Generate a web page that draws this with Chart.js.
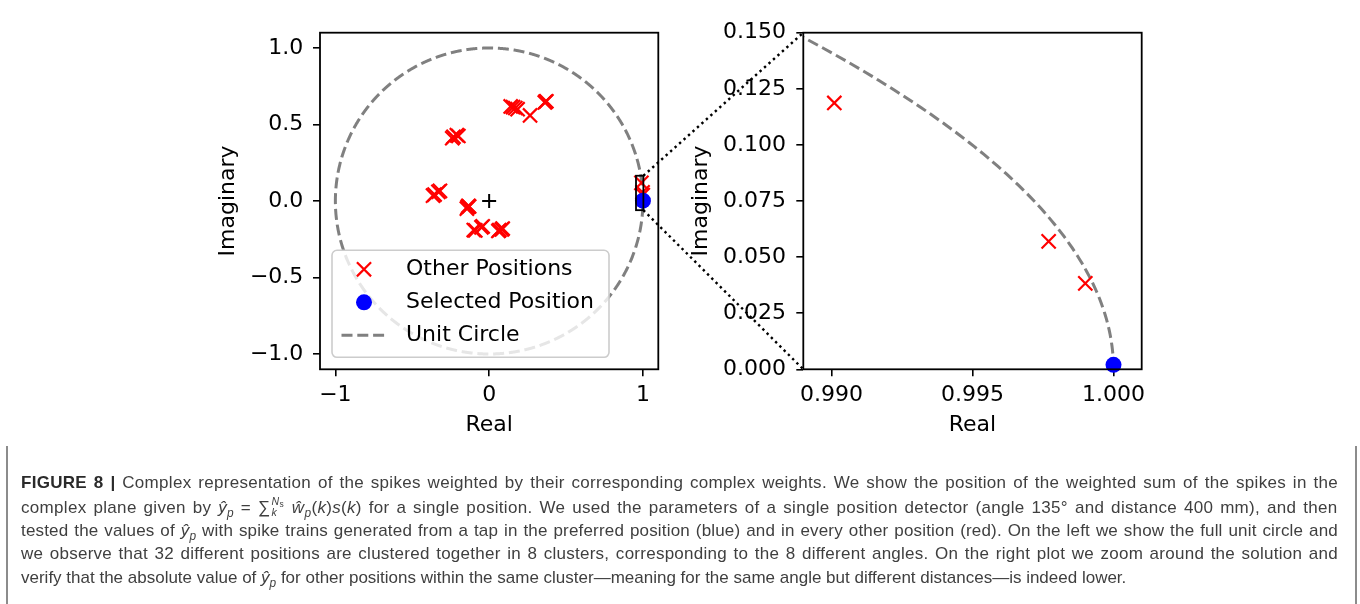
<!DOCTYPE html>
<html lang="en">
<head>
    <meta charset="UTF-8"/>
    <title>Figure 8 - complex representation of weighted spikes</title>
    <script src="https://cdn.jsdelivr.net/npm/chart.js"></script>
    <style>
        html, body {
            margin: 0;
            padding: 0;
            background: #fff;
        }

        body {
            width: 1360px;
            height: 604px;
            position: relative;
            overflow: hidden;
        }

        canvas.plot {
            position: absolute;
            top: 0;
        }

        #leftPlot { left: 200px; }
        #rightPlot { left: 680px; }

        #overlay {
            position: absolute;
            left: 0;
            top: 0;
            pointer-events: none;
        }

        #caption {
            position: absolute;
            left: 6px;
            top: 446px;
            width: 1347px;
            height: 160px;
            border-left: 2px solid #8c8c8c;
            border-right: 2px solid #8c8c8c;
            font-family: 'Liberation Sans', Arial, sans-serif;
            font-size: 17px;
            color: #3f3f3f;
        }

        #caption .line {
            position: absolute;
            left: 13px;
            height: 20px;
            line-height: 20px;
            white-space: nowrap;
        }

        #caption b { color: #2a2a2a; }

        #caption sub { font-size: 0.7em; vertical-align: -0.3em; line-height: 0; }

        .lim {
            display: inline-flex;
            flex-direction: column;
            vertical-align: middle;
            font-size: 0.62em;
            line-height: 1.1;
            margin: 0 1px;
            position: relative;
            top: -1px;
        }

        .lim sub { font-size: 0.8em !important; vertical-align: -0.2em !important; }
    </style>
</head>
<body>
<canvas class="plot" id="leftPlot" width="480" height="440"></canvas>
<canvas class="plot" id="rightPlot" width="480" height="440"></canvas>
<canvas id="overlay" width="1360" height="440"></canvas>

<div id="caption">
    <div class="line" style="top:27px"><b>FIGURE 8 |</b> Complex representation of the spikes weighted by their corresponding complex weights. We show the position of the weighted sum of the spikes in the</div>
    <div class="line" style="top:50.8px">complex plane given by <i>ŷ<sub>p</sub></i> = ∑<span class="lim"><span><i>N</i><sub>s</sub></span><i>k</i></span> <i>ŵ<sub>p</sub></i>(<i>k</i>)<i>s</i>(<i>k</i>) for a single position. We used the parameters of a single position detector (angle 135° and distance 400 mm), and then</div>
    <div class="line" style="top:74.6px">tested the values of <i>ŷ<sub>p</sub></i> with spike trains generated from a tap in the preferred position (blue) and in every other position (red). On the left we show the full unit circle and</div>
    <div class="line" style="top:98.4px">we observe that 32 different positions are clustered together in 8 clusters, corresponding to the 8 different angles. On the right plot we zoom around the solution and</div>
    <div class="line" style="top:122.2px">verify that the absolute value of <i>ŷ<sub>p</sub></i> for other positions within the same cluster—meaning for the same angle but different distances—is indeed lower.</div>
</div>

<script>
    // weighted sums for every non-selected position (real / imaginary parts)
    const otherReal = [
        0.140, 0.155, 0.170, 0.185,
        0.266, 0.362, 0.368, 0.372,
        -0.240, -0.232, -0.210, -0.200,
        -0.365, -0.355, -0.330, -0.320,
        -0.145, -0.140, -0.135, -0.130,
        -0.100, -0.090, -0.050, -0.042,
        0.060, 0.066, 0.082, 0.088,
        0.9901, 0.9977, 0.9990
    ];
    const otherImag = [
        0.618, 0.614, 0.608, 0.600,
        0.559, 0.644, 0.650, 0.652,
        0.410, 0.420, 0.430, 0.425,
        0.035, 0.042, 0.060, 0.066,
        -0.050, -0.040, -0.032, -0.036,
        -0.190, -0.192, -0.172, -0.166,
        -0.196, -0.190, -0.186, -0.180,
        0.1187, 0.0570, 0.0383
    ];

    // the position the detector is tuned to
    const selectedReal = [1.000];
    const selectedImag = [0.002];

    // origin marker
    const originReal = [0];
    const originImag = [0];

    // region shown in the zoomed plot, as outlined on the full plot
    const zoomBoxReal = [0.955, 1.003];
    const zoomBoxImag = [-0.060, 0.165];

    // axis limits and ticks
    const fullLimits = [-1.1, 1.1];
    const fullTicksX = [-1, 0, 1];
    const fullTicksY = [-1.0, -0.5, 0.0, 0.5, 1.0];
    const zoomLimitsX = [0.989, 1.001];
    const zoomLimitsY = [0.0, 0.15];
    const zoomTicksX = [0.990, 0.995, 1.000];
    const zoomTicksY = [0.000, 0.025, 0.050, 0.075, 0.100, 0.125, 0.150];

    // unit circle, fine enough to stay smooth in the zoomed view
    const circleSteps = 3600;
    const unitCircle = [];
    for (let i = 0; i <= circleSteps; i++) {
        const t = 2 * Math.PI * i / circleSteps;
        unitCircle.push({x: Math.cos(t), y: Math.sin(t)});
    }

    const RED = '#ff0000';
    const BLUE = '#0000ff';
    const GREY = '#808080';
    const FONT = {family: 'DejaVu Sans', size: 22};

    Chart.defaults.font.family = FONT.family;
    Chart.defaults.font.size = FONT.size;
    Chart.defaults.color = '#000';

    const toPoints = (xs, ys) => xs.map((x, i) => ({x: x, y: ys[i]}));

    const fmt = digits => v => (v < 0 ? '\u2212' : '') + Math.abs(v).toFixed(digits);

    function makeDatasets() {
        return [
            {
                label: 'Selected Position',
                data: toPoints(selectedReal, selectedImag),
                pointStyle: 'circle',
                pointRadius: 8,
                pointBorderWidth: 0,
                pointBackgroundColor: BLUE,
                pointBorderColor: BLUE,
                clip: false
            },
            {
                label: 'Other Positions',
                data: toPoints(otherReal, otherImag),
                pointStyle: 'crossRot',
                pointRadius: 10,
                pointBorderWidth: 2.2,
                pointBorderColor: RED,
                pointBackgroundColor: RED,
                clip: false
            },
            {
                label: 'origin',
                data: toPoints(originReal, originImag),
                pointStyle: 'cross',
                pointRadius: 7,
                pointBorderWidth: 2,
                pointBorderColor: '#000',
                pointBackgroundColor: '#000'
            },
            {
                label: 'Unit Circle',
                data: unitCircle,
                showLine: true,
                borderColor: GREY,
                borderWidth: 3,
                borderDash: [11, 4.8],
                pointRadius: 0,
                fill: false
            }
        ];
    }

    function axis(limits, ticks, digits, title, isY, axisSize, titlePad, tickPad) {
        return {
            type: 'linear',
            min: limits[0],
            max: limits[1],
            afterBuildTicks: s => { s.ticks = ticks.map(v => ({value: v})); },
            afterFit: s => {
                if (isY) s.width = axisSize; else s.height = axisSize;
            },
            grid: {
                display: true,
                drawOnChartArea: false,
                drawTicks: true,
                tickLength: 7,
                color: '#000',
                lineWidth: 1.6
            },
            border: {display: false},
            ticks: {
                callback: fmt(digits),
                autoSkip: false,
                maxRotation: 0,
                padding: tickPad,
                color: '#000',
                font: FONT
            },
            title: {
                display: true,
                text: title,
                color: '#000',
                font: FONT,
                padding: isY ? {top: titlePad, bottom: 0} : {top: 0, bottom: titlePad}
            }
        };
    }

    // axes frame on all four sides
    const framePlugin = {
        id: 'frame',
        afterDatasetsDraw(chart) {
            const {ctx, chartArea: a} = chart;
            ctx.save();
            ctx.strokeStyle = '#000';
            ctx.lineWidth = 1.8;
            ctx.strokeRect(a.left, a.top, a.right - a.left, a.bottom - a.top);
            ctx.restore();
        }
    };

    // outline of the zoomed region on the full plot
    const zoomBoxPlugin = {
        id: 'zoomBox',
        afterDatasetsDraw(chart) {
            const {ctx, scales: {x, y}} = chart;
            const x0 = x.getPixelForValue(zoomBoxReal[0]);
            const x1 = x.getPixelForValue(zoomBoxReal[1]);
            const y0 = y.getPixelForValue(zoomBoxImag[0]);
            const y1 = y.getPixelForValue(zoomBoxImag[1]);
            ctx.save();
            ctx.strokeStyle = '#000';
            ctx.lineWidth = 1.8;
            ctx.strokeRect(x0, y1, x1 - x0, y0 - y1);
            ctx.restore();
        }
    };

    // matplotlib-style legend in the lower left corner of the plot area
    const insetLegend = {
        id: 'insetLegend',
        afterDraw(chart) {
            const {ctx, chartArea: a} = chart;
            const w = 277, h = 107;
            const left = a.left + 12, top = a.bottom - 12 - h;
            ctx.save();
            ctx.beginPath();
            ctx.roundRect(left, top, w, h, 5);
            ctx.fillStyle = 'rgba(255,255,255,0.8)';
            ctx.fill();
            ctx.strokeStyle = '#cccccc';
            ctx.lineWidth = 1.6;
            ctx.stroke();

            const byLabel = l => chart.data.datasets.find(d => d.label === l);
            const entries = ['Other Positions', 'Selected Position', 'Unit Circle'];
            const mx = left + 32;
            ctx.font = `${FONT.size}px ${FONT.family}`;
            ctx.textBaseline = 'middle';
            entries.forEach((label, i) => {
                const ds = byLabel(label);
                const cy = top + 19 + i * 33;
                ctx.setLineDash([]);
                if (ds.pointStyle === 'crossRot') {
                    const r = ds.pointRadius * Math.SQRT1_2;
                    ctx.strokeStyle = ds.pointBorderColor;
                    ctx.lineWidth = ds.pointBorderWidth;
                    ctx.beginPath();
                    ctx.moveTo(mx - r, cy - r);
                    ctx.lineTo(mx + r, cy + r);
                    ctx.moveTo(mx + r, cy - r);
                    ctx.lineTo(mx - r, cy + r);
                    ctx.stroke();
                } else if (ds.pointStyle === 'circle') {
                    ctx.fillStyle = ds.pointBackgroundColor;
                    ctx.beginPath();
                    ctx.arc(mx, cy, ds.pointRadius, 0, 2 * Math.PI);
                    ctx.fill();
                } else {
                    ctx.strokeStyle = ds.borderColor;
                    ctx.lineWidth = ds.borderWidth;
                    ctx.setLineDash(ds.borderDash);
                    ctx.beginPath();
                    ctx.moveTo(left + 9.5, cy);
                    ctx.lineTo(left + 54.5, cy);
                    ctx.stroke();
                    ctx.setLineDash([]);
                }
                ctx.fillStyle = '#000';
                ctx.fillText(label, left + 74, cy);
            });
            ctx.restore();
        }
    };

    const baseOptions = (scales, padding) => ({
        responsive: false,
        animation: false,
        events: [],
        layout: {padding: padding},
        plugins: {legend: {display: false}, tooltip: {enabled: false}},
        scales: scales
    });

    const fullChart = new Chart(document.getElementById('leftPlot'), {
        type: 'scatter',
        data: {datasets: makeDatasets()},
        options: baseOptions({
            x: axis(fullLimits, fullTicksX, 0, 'Real', false, 70.7, 1.8, 6),
            y: axis(fullLimits, fullTicksY, 1, 'Imaginary', true, 120, 14.8, 9.7)
        }, {top: 32.7, right: 21.7, bottom: 0, left: 0}),
        plugins: [framePlugin, zoomBoxPlugin, insetLegend]
    });

    const zoomChart = new Chart(document.getElementById('rightPlot'), {
        type: 'scatter',
        data: {datasets: makeDatasets().filter(d => d.label !== 'origin')},
        options: baseOptions({
            x: axis(zoomLimitsX, zoomTicksX, 3, 'Real', false, 70.7, 1.8, 6),
            y: axis(zoomLimitsY, zoomTicksY, 3, 'Imaginary', true, 123.3, 8.5, 10.3)
        }, {top: 32.7, right: 18.3, bottom: 0, left: 0}),
        plugins: [framePlugin]
    });

    // dotted connectors from the outlined box to the corners of the zoomed plot
    function drawConnectors() {
        const ctx = document.getElementById('overlay').getContext('2d');
        const leftOffset = 200, rightOffset = 680;
        const fx = fullChart.scales.x, fy = fullChart.scales.y;
        const boxRight = leftOffset + fx.getPixelForValue(zoomBoxReal[1]);
        const boxTop = fy.getPixelForValue(zoomBoxImag[1]);
        const boxBottom = fy.getPixelForValue(zoomBoxImag[0]);
        const za = zoomChart.chartArea;
        ctx.save();
        ctx.strokeStyle = '#000';
        ctx.lineWidth = 2.4;
        ctx.setLineDash([2.4, 3.6]);
        ctx.beginPath();
        ctx.moveTo(boxRight, boxTop);
        ctx.lineTo(rightOffset + za.left, za.top);
        ctx.moveTo(boxRight, boxBottom);
        ctx.lineTo(rightOffset + za.left, za.bottom);
        ctx.stroke();
        ctx.restore();
    }

    // justify every full caption line, half through letter gaps and half through
    // word gaps; the last line stays ragged
    function fitCaption() {
        const lines = Array.from(document.querySelectorAll('#caption .line'));
        const target = 1317;
        lines.slice(0, -1).forEach(l => {
            const extra = target - l.getBoundingClientRect().width;
            const chars = l.textContent.length;
            const gaps = (l.textContent.match(/ /g) || []).length;
            l.style.letterSpacing = (extra * 0.5 / chars).toFixed(3) + 'px';
            l.style.wordSpacing = (extra * 0.5 / gaps).toFixed(3) + 'px';
        });
    }

    drawConnectors();
    fitCaption();
</script>
</body>
</html>
